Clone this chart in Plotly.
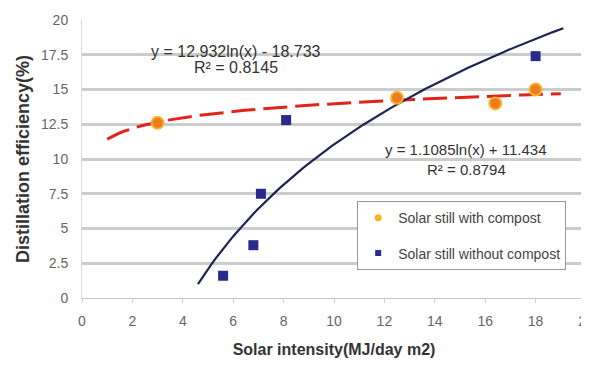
import numpy as np
import plotly.graph_objects as go

# Data
with_compost_x = [3.0, 12.5, 16.4, 18.0]
with_compost_y = [12.6, 14.4, 14.0, 15.0]
without_compost_x = [5.6, 6.8, 7.1, 8.1, 18.0]
without_compost_y = [1.6, 3.8, 7.5, 12.8, 17.4]

# Logarithmic trendlines, coefficients as shown on the chart (y = a ln(x) + b)
trend_with = {"a": 1.1085, "b": 11.434, "x0": 1.0, "x1": 19.0}
trend_without = {"a": 12.932, "b": -18.733, "x0": 4.6, "x1": 19.1}

eq_with = ["y = 1.1085ln(x) + 11.434", "R² = 0.8794"]
eq_without = ["y = 12.932ln(x) - 18.733", "R² = 0.8145"]

x_ticks = list(range(0, 21, 2))
y_ticks = [0, 2.5, 5, 7.5, 10, 12.5, 15, 17.5, 20]
y_tick_labels = ["0", "2.5", "5", "7.5", "10", "12.5", "15", "17.5", "20"]

FONT = "Liberation Sans, Arial, sans-serif"
ORANGE = "#F07A22"
ORANGE_RIM = "#F5B52A"
NAVY = "#2A2A8E"

def trend(t):
    xs = np.linspace(t["x0"], t["x1"], 120)
    return xs, t["a"] * np.log(xs) + t["b"]

fig = go.Figure()

tx, ty = trend(trend_with)
fig.add_trace(go.Scatter(x=tx, y=ty, mode="lines", showlegend=False,
                         line=dict(color="#E2231A", width=3, dash="24px,8px"), hoverinfo="skip"))
tx, ty = trend(trend_without)
fig.add_trace(go.Scatter(x=tx, y=ty, mode="lines", showlegend=False,
                         line=dict(color="#1C2454", width=2.2), hoverinfo="skip"))

fig.add_trace(go.Scatter(x=with_compost_x, y=with_compost_y, mode="markers",
                         name="Solar still with compost", showlegend=False,
                         marker=dict(symbol="circle", size=12, color=ORANGE,
                                     line=dict(color=ORANGE_RIM, width=2))))
fig.add_trace(go.Scatter(x=without_compost_x, y=without_compost_y, mode="markers",
                         name="Solar still without compost", showlegend=False,
                         marker=dict(symbol="square", size=10, color=NAVY,
                                     line=dict(color=NAVY, width=0))))

# legend entries (small symbols like the reference)
fig.add_trace(go.Scatter(x=[None], y=[None], mode="markers", name="Solar still with compost",
                         legendgroup="a",
                         marker=dict(symbol="circle", size=7, color=ORANGE_RIM,
                                     line=dict(color=ORANGE_RIM, width=0))))
fig.add_trace(go.Scatter(x=[None], y=[None], mode="markers", name="Solar still without compost",
                         legendgroup="b",
                         marker=dict(symbol="square", size=6, color=NAVY,
                                     line=dict(color=NAVY, width=0))))

annos = [(6.1, 17.7, eq_without[0], 16), (6.1, 16.6, eq_without[1], 16),
         (15.24, 10.65, eq_with[0], 15), (15.24, 9.25, eq_with[1], 15)]
for cx, cy, txt, fs in annos:
    fig.add_annotation(x=cx, y=cy, xref="x", yref="y", showarrow=False,
                       text=txt, font=dict(family=FONT, size=fs, color="#333333"))

fig.update_layout(
    width=581, height=357,
    margin=dict(l=74, r=3, t=12, b=67, autoexpand=False),
    paper_bgcolor="white", plot_bgcolor="white",
    font=dict(family=FONT, size=12, color="#555555"),
    legend=dict(x=0.546, y=0.348, xanchor="left", yanchor="top",
                bgcolor="white", bordercolor="#999999", borderwidth=1,
                font=dict(family=FONT, size=14, color="#444444"),
                itemwidth=30, tracegroupgap=14),
    xaxis=dict(range=[0, 20], tickvals=x_ticks, showgrid=False, automargin=False,
               showline=True, linecolor="#C8C8C8", linewidth=1,
               ticks="outside", tickcolor="#D0D0D0", ticklen=4,
               ticklabelstandoff=6, ticklabeloverflow="allow",
               tickfont=dict(family=FONT, size=14, color="#666666"),
               zeroline=False,
               title=dict(text="<b>Solar intensity(MJ/day m2)</b>",
                          font=dict(family=FONT, size=16, color="#333333"), standoff=16)),
    yaxis=dict(range=[0, 20], tickvals=y_ticks, ticktext=y_tick_labels,
               showgrid=True, gridcolor="#CCCCCC", gridwidth=3, automargin=False,
               showline=True, linecolor="#DDDDDD", linewidth=1,
               zeroline=False, ticks="", ticklabelstandoff=10,
               tickfont=dict(family=FONT, size=14, color="#666666"),
               title=dict(text="<b>Distillation efficiency(%)</b>",
                          font=dict(family=FONT, size=18, color="#333333"), standoff=6)),
)

fig.write_html("out.html")
